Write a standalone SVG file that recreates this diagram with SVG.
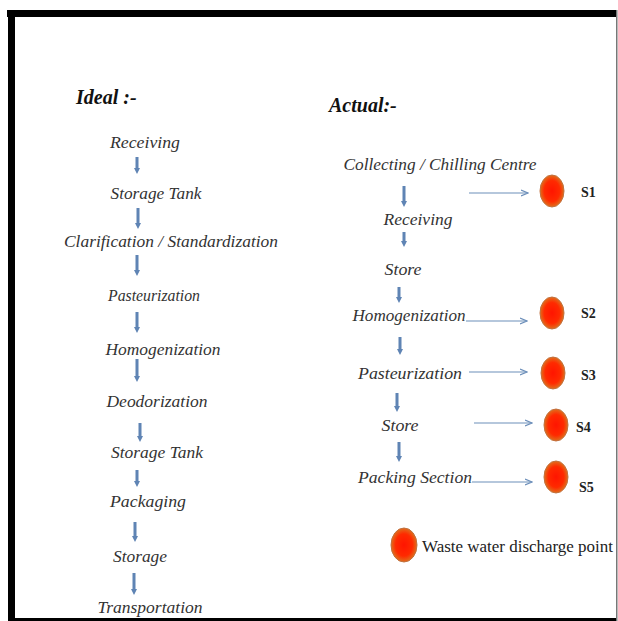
<svg xmlns="http://www.w3.org/2000/svg" width="618" height="621" viewBox="0 0 618 621">
<style>
.t{font-family:"Liberation Serif","Times New Roman",serif;font-style:italic;font-size:16px;fill:#333;text-anchor:middle}
.h{font-family:"Liberation Serif","Times New Roman",serif;font-style:italic;font-weight:bold;font-size:20px;fill:#111}
.s{font-family:"Liberation Serif","Times New Roman",serif;font-weight:bold;font-size:14px;fill:#222}
.lg{font-family:"Liberation Serif","Times New Roman",serif;font-size:16px;fill:#222}
.va{fill:#5f84b4}
.hl{stroke:#6d8fba;stroke-width:1.2;fill:none;marker-end:url(#ah)}
.dot{fill:url(#rg);stroke:#c07040;stroke-width:1}
</style>
<defs>
<radialGradient id="rg" cx="0.5" cy="0.5" r="0.5">
<stop offset="0" stop-color="#ff1500"/>
<stop offset="0.65" stop-color="#ff2a00"/>
<stop offset="1" stop-color="#e0701c"/>
</radialGradient>
<marker id="ah" viewBox="0 0 8 8" refX="7" refY="4" markerWidth="8" markerHeight="8" markerUnits="userSpaceOnUse" orient="auto">
<path d="M0,1 L7,4 L0,7" fill="none" stroke="#6d8fba" stroke-width="1.2"/>
</marker>
</defs>
<rect x="0" y="0" width="618" height="621" fill="#fff"/>
<g id="frame">
<rect x="7" y="10" width="610" height="7" fill="#000"/>
<rect x="8" y="10" width="7" height="611" fill="#000"/>
<rect x="8" y="618" width="609" height="3" fill="#000"/>
<rect x="616" y="10" width="1.5" height="611" fill="#777"/>
</g>
<g id="ideal-title"><text class="h" x="76" y="104">Ideal :-</text></g>
<g id="ideal-receiving"><text class="t" x="145" y="148" textLength="70" lengthAdjust="spacingAndGlyphs">Receiving</text></g>
<g id="ideal-storage-tank-1"><text class="t" x="156" y="199" textLength="91" lengthAdjust="spacingAndGlyphs">Storage Tank</text></g>
<g id="ideal-clarification"><text class="t" x="171" y="247" textLength="214" lengthAdjust="spacingAndGlyphs">Clarification / Standardization</text></g>
<g id="ideal-pasteurization"><text class="t" x="154" y="301" textLength="92" lengthAdjust="spacingAndGlyphs">Pasteurization</text></g>
<g id="ideal-homogenization"><text class="t" x="163" y="355" textLength="115" lengthAdjust="spacingAndGlyphs">Homogenization</text></g>
<g id="ideal-deodorization"><text class="t" x="157" y="407" textLength="101" lengthAdjust="spacingAndGlyphs">Deodorization</text></g>
<g id="ideal-storage-tank-2"><text class="t" x="157" y="458" textLength="92" lengthAdjust="spacingAndGlyphs">Storage Tank</text></g>
<g id="ideal-packaging"><text class="t" x="148" y="507" textLength="76" lengthAdjust="spacingAndGlyphs">Packaging</text></g>
<g id="ideal-storage"><text class="t" x="140" y="562" textLength="54" lengthAdjust="spacingAndGlyphs">Storage</text></g>
<g id="ideal-transportation"><text class="t" x="150" y="613" textLength="105" lengthAdjust="spacingAndGlyphs">Transportation</text></g>

<g id="actual-title"><text class="h" x="329" y="112">Actual:-</text></g>
<g id="actual-collecting"><text class="t" x="440" y="170" textLength="193" lengthAdjust="spacingAndGlyphs">Collecting / Chilling Centre</text></g>
<g id="actual-receiving"><text class="t" x="418" y="225" textLength="69" lengthAdjust="spacingAndGlyphs">Receiving</text></g>
<g id="actual-store-1"><text class="t" x="403" y="275" textLength="37" lengthAdjust="spacingAndGlyphs">Store</text></g>
<g id="actual-homogenization"><text class="t" x="409" y="321" textLength="113" lengthAdjust="spacingAndGlyphs">Homogenization</text></g>
<g id="actual-pasteurization"><text class="t" x="410" y="379" textLength="104" lengthAdjust="spacingAndGlyphs">Pasteurization</text></g>
<g id="actual-store-2"><text class="t" x="400" y="431" textLength="37" lengthAdjust="spacingAndGlyphs">Store</text></g>
<g id="actual-packing"><text class="t" x="415" y="483" textLength="114" lengthAdjust="spacingAndGlyphs">Packing Section</text></g>

<g id="s1"><ellipse class="dot" cx="552" cy="191" rx="12" ry="16"/><text class="s" x="581" y="197">S1</text></g>
<g id="s2"><ellipse class="dot" cx="552" cy="313" rx="12" ry="16"/><text class="s" x="581" y="318">S2</text></g>
<g id="s3"><ellipse class="dot" cx="553" cy="373" rx="12" ry="16"/><text class="s" x="581" y="380">S3</text></g>
<g id="s4"><ellipse class="dot" cx="556" cy="425" rx="12" ry="16"/><text class="s" x="576" y="432">S4</text></g>
<g id="s5"><ellipse class="dot" cx="556" cy="477" rx="12" ry="16"/><text class="s" x="579" y="492">S5</text></g>
<g id="legend"><ellipse class="dot" cx="404" cy="545" rx="13" ry="17"/><text class="lg" x="422" y="552" textLength="191" lengthAdjust="spacingAndGlyphs">Waste water discharge point</text></g>

<g id="connectors">
<path class="va" d="M135.5,157 H138.5 V168 H140 L137,174 L134,168 H135.5 Z"/>
<path class="va" d="M136.5,208 H139.5 V223 H141 L138,229 L135,223 H136.5 Z"/>
<path class="va" d="M135.5,255 H138.5 V270 H140 L137,276 L134,270 H135.5 Z"/>
<path class="va" d="M135.5,312 H138.5 V327 H140 L137,333 L134,327 H135.5 Z"/>
<path class="va" d="M135.5,359 H138.5 V376 H140 L137,382 L134,376 H135.5 Z"/>
<path class="va" d="M138.5,423 H141.5 V436 H143 L140,442 L137,436 H138.5 Z"/>
<path class="va" d="M135.5,470 H138.5 V481 H140 L137,487 L134,481 H135.5 Z"/>
<path class="va" d="M133.5,522 H136.5 V536 H138 L135,542 L132,536 H133.5 Z"/>
<path class="va" d="M132.5,573 H135.5 V589 H137 L134,595 L131,589 H132.5 Z"/>

<path class="va" d="M402.5,186 H405.5 V201 H407 L404,207 L401,201 H402.5 Z"/>
<path class="va" d="M402.5,232 H405.5 V241 H407 L404,247 L401,241 H402.5 Z"/>
<path class="va" d="M397.5,287 H400.5 V297 H402 L399,303 L396,297 H397.5 Z"/>
<path class="va" d="M398.5,337 H401.5 V349 H403 L400,355 L397,349 H398.5 Z"/>
<path class="va" d="M395.5,393 H398.5 V406 H400 L397,412 L394,406 H395.5 Z"/>
<path class="va" d="M397.5,442 H400.5 V456 H402 L399,462 L396,456 H397.5 Z"/>

<line class="hl" x1="469" y1="193" x2="528" y2="193"/>
<line class="hl" x1="466" y1="321" x2="527" y2="321"/>
<line class="hl" x1="469" y1="372" x2="527" y2="372"/>
<line class="hl" x1="474" y1="423" x2="532" y2="423"/>
<line class="hl" x1="472" y1="482" x2="532" y2="482"/>
</g>
</svg>
